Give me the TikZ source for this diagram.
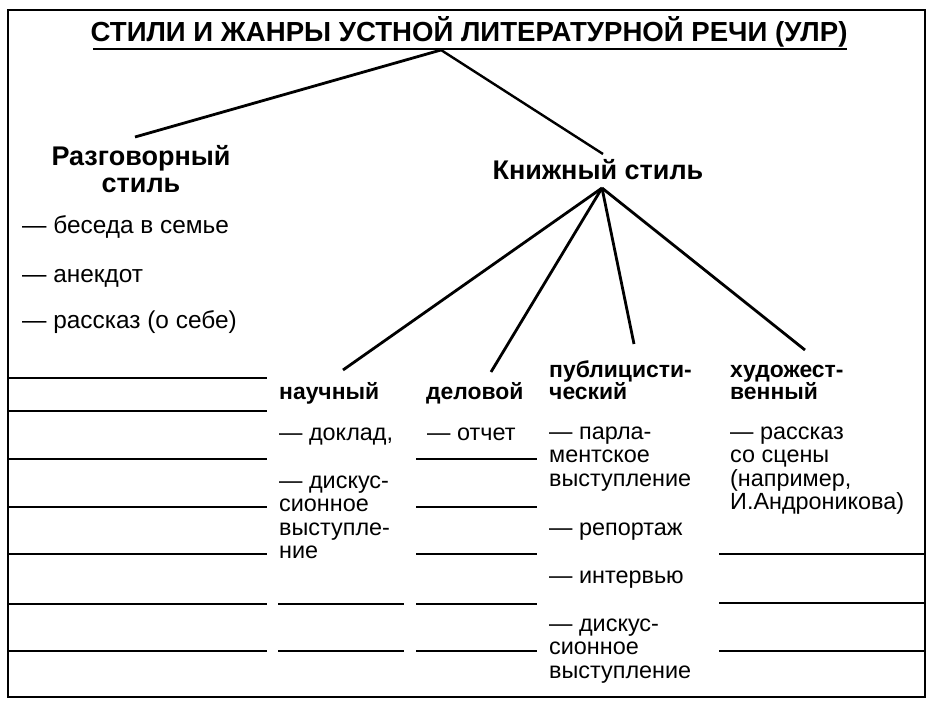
\documentclass[tikz,border=0pt]{standalone}
\usepackage{fontspec}
\setmainfont{Liberation Sans}
\begin{document}
\begin{tikzpicture}[x=1pt,y=-1pt,
  txt/.style={inner sep=0pt,anchor=base west,align=left,font=\fontsize{24.4}{23.5}\selectfont},
  item/.style={inner sep=0pt,anchor=base west,align=left,font=\fontsize{23.4}{23.5}\selectfont},
  head/.style={inner sep=0pt,anchor=base west,align=left,font=\fontsize{22.9}{22}\selectfont\bfseries},
  big/.style={inner sep=0pt,anchor=base,align=center,font=\fontsize{27}{27}\selectfont\bfseries},
  conn/.style={line width=2.8pt},
  rule/.style={line width=1.8pt}]
\useasboundingbox (0,0) rectangle (935,709);
\draw[line width=2.2pt] (8,10) rectangle (925,697);
% title
\node[big,font=\fontsize{27.6}{27}\selectfont\bfseries] (title) at (469,42) {СТИЛИ И ЖАНРЫ УСТНОЙ ЛИТЕРАТУРНОЙ РЕЧИ (УЛР)};
\draw[line width=2pt] (93,49) -- (847,49);
% main styles (base anchor = baseline of last line)
\node[big] (rozg) at (141,192) {Разговорный\\стиль};
\node[big] (knizh) at (598,179) {Книжный стиль};
\coordinate (apex) at (441,50);
\coordinate (rozgtop) at (135,137);
\coordinate (knizhtop) at (603,154);
\coordinate (fan) at (602,188);
\draw[conn] (apex) -- (rozgtop);
\draw[line width=2.4pt] (apex) -- (knizhtop);
% left list
\node[txt] (l1) at (22,233) {— беседа в семье};
\node[txt] (l2) at (22,282) {— анекдот};
\node[txt] (l3) at (22,328) {— рассказ (о себе)};
% column headings
\node[head] (nauch) at (279,399) {научный};
\node[head] (delov) at (426,399) {деловой};
\node[head] (publ) at (549,399) {публицисти-\\ческий};
\node[head] (hud) at (730,399) {художест-\\венный};
\coordinate (nauchtop) at (343,370);
\coordinate (delovtop) at (491,372);
\coordinate (publtop) at (634,344);
\coordinate (hudtop) at (805,350);
\draw[conn] (fan) -- (nauchtop);
\draw[conn] (fan) -- (delovtop);
\draw[conn] (fan) -- (publtop);
\draw[conn] (fan) -- (hudtop);
% column items
\node[item] (n1) at (279,440) {— доклад,};
\node[item] (n2) at (279,558.5) {— дискус-\\сионное\\выступле-\\ние};
\node[item] (d1) at (427,440) {— отчет};
\node[item] (p1) at (549,486) {— парла-\\ментское\\выступление};
\node[item] (p2) at (549,535) {— репортаж};
\node[item] (p3) at (549,583) {— интервью};
\node[item] (p4) at (549,678) {— дискус-\\сионное\\выступление};
\node[item] (h1) at (730,509.5) {— рассказ\\со сцены\\(например,\\И.Андроникова)};
% rules
\foreach \y in {378,411,459,507,554,604,651} \draw[rule] (8,\y) -- (267,\y);
\foreach \y in {459,507,554,604,651} \draw[rule] (416,\y) -- (537,\y);
\foreach \y in {604,651} \draw[rule] (278,\y) -- (404,\y);
\foreach \y in {554,603,651} \draw[rule] (719,\y) -- (925,\y);
\end{tikzpicture}
\end{document}
